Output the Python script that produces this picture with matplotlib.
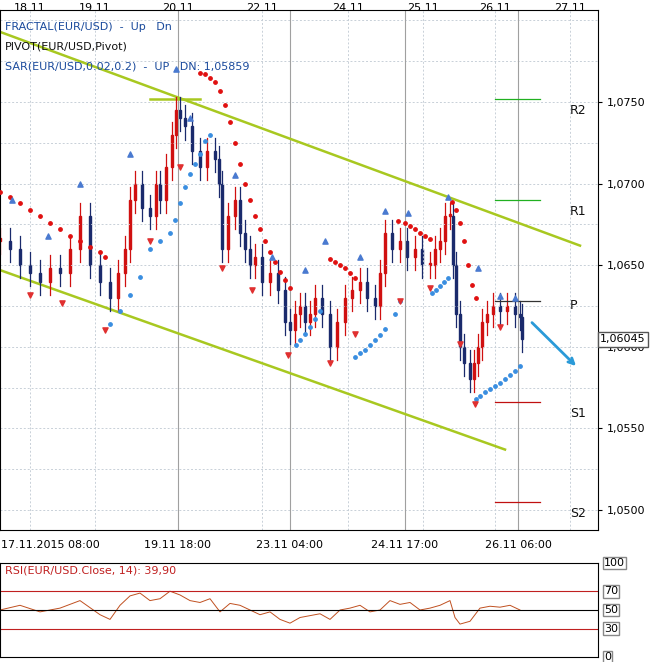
import matplotlib
matplotlib.use("Agg")
import matplotlib.pyplot as plt
import numpy as np

# ---- data ----
close_x = [0,10,20,30,40,50,60,70,80,90,100,110,118,125,130,135,142,150,156,160,166,172,176,180,185,192,200,207,215,219,222,228,235,240,245,250,255,262,270,278,285,290,295,300,305,310,315,322,330,337,345,352,360,367,375,380,385,392,400,407,415,422,430,435,440,445,450,453,456,460,464,470,474,478,482,487,493,500,507,515,520,522]
close_p = [1.0665,1.0660,1.0650,1.0645,1.0640,1.0648,1.0645,1.0660,1.0680,1.0650,1.0640,1.0630,1.0645,1.0660,1.0690,1.0700,1.0685,1.0680,1.0700,1.0690,1.0710,1.0730,1.0745,1.0740,1.0735,1.0720,1.0710,1.0720,1.0715,1.0700,1.0660,1.0680,1.0690,1.0670,1.0660,1.0650,1.0655,1.0640,1.0645,1.0635,1.0615,1.0610,1.0620,1.0625,1.0615,1.0620,1.0630,1.0620,1.0600,1.0615,1.0630,1.0635,1.0640,1.0630,1.0625,1.0645,1.0670,1.0660,1.0665,1.0655,1.0660,1.0650,1.0650,1.0660,1.0665,1.0680,1.0680,1.0650,1.0620,1.0600,1.0590,1.0580,1.0590,1.0600,1.0615,1.0620,1.0625,1.0622,1.0625,1.0620,1.0618,1.0605]
sar_up_x = [110,120,130,140,150,160,170,175,180,185,190,195,200,205,210,296,300,305,310,315,320,355,360,365,370,375,380,385,395,400,432,436,440,444,448,476,480,485,490,495,500,505,510,515,520]
sar_up_p = [1.0614,1.0622,1.0632,1.0643,1.0660,1.0665,1.0670,1.0678,1.0688,1.0698,1.0706,1.0712,1.0718,1.0726,1.0730,1.0601,1.0604,1.0608,1.0612,1.0617,1.0622,1.0594,1.0596,1.0598,1.0601,1.0604,1.0607,1.0611,1.0620,1.0628,1.0633,1.0635,1.0637,1.0640,1.0642,1.0568,1.0570,1.0572,1.0574,1.0576,1.0578,1.0580,1.0583,1.0585,1.0588]
sar_dn_x = [0,10,20,30,40,50,60,70,80,90,100,105,200,205,210,215,220,225,230,235,240,245,250,255,260,265,270,275,280,285,290,330,335,340,345,350,355,398,405,410,415,420,425,430,452,456,460,464,468,472,476]
sar_dn_p = [1.0695,1.0692,1.0688,1.0684,1.0680,1.0676,1.0672,1.0668,1.0665,1.0661,1.0658,1.0655,1.0768,1.0767,1.0765,1.0762,1.0757,1.0748,1.0738,1.0725,1.0712,1.0700,1.0690,1.0680,1.0672,1.0665,1.0658,1.0652,1.0646,1.0641,1.0636,1.0654,1.0652,1.0650,1.0648,1.0645,1.0642,1.0677,1.0676,1.0674,1.0672,1.0670,1.0668,1.0666,1.0689,1.0684,1.0676,1.0665,1.0650,1.0638,1.0630]
frac_up_x = [12,48,80,130,176,190,235,272,305,325,360,385,408,448,478,500,515]
frac_up_p = [1.0690,1.0668,1.0700,1.0718,1.0770,1.0740,1.0705,1.0655,1.0647,1.0665,1.0655,1.0683,1.0682,1.0692,1.0648,1.0631,1.0630]
frac_dn_x = [30,62,105,150,180,222,252,288,330,355,400,430,460,475,500]
frac_dn_p = [1.0632,1.0627,1.0610,1.0665,1.0710,1.0648,1.0635,1.0595,1.0590,1.0608,1.0628,1.0636,1.0602,1.0565,1.0612]
pivot_names = ["R2","R1","P","S1","S2"]
pivot_vals = [1.0752,1.0690,1.0628,1.0566,1.0505]
y_ticks = [1.0500,1.0550,1.0600,1.0650,1.0700,1.0750]
top_dates = ["18.11","19.11","20.11","22.11","24.11","25.11","26.11","27.11"]
top_dates_x = [30,95,178,262,348,423,495,570]
bot_dates = ["17.11.2015 08:00","19.11 18:00","23.11 04:00","24.11 17:00","26.11 06:00"]
bot_dates_x = [50,178,290,405,518]
rsi_x = [0,20,40,60,80,100,110,120,130,140,150,160,170,180,190,200,210,220,230,240,250,260,270,280,290,300,310,320,330,340,350,360,370,380,390,400,410,420,430,440,450,455,460,470,480,490,500,510,520]
rsi_v = [50,55,48,52,60,45,40,55,65,68,60,62,70,66,60,58,62,48,57,55,50,45,48,40,36,42,44,46,40,50,52,55,48,50,60,56,58,50,52,55,60,42,35,38,52,54,53,55,50]

fig = plt.figure(figsize=(6.58,6.62), dpi=100)
W, H = 658, 662
ax = fig.add_axes([0/W, 1-530/H, 598/W, 520/H])
ylo, yhi = 1.04877, 1.08064
ax.set_xlim(0, 598); ax.set_ylim(ylo, yhi)
for t in np.arange(1.0500, 1.0800, 0.0025):
    ax.axhline(t, color="#c8d0d8", lw=0.7, ls=(0,(2,2)))
for x in top_dates_x:
    ax.axvline(x, color="#c8d0d8", lw=0.7, ls=(0,(2,2)))
for x in bot_dates_x[1:]:
    ax.axvline(x, color="#a0a0a0", lw=0.8)
ax.plot([0,580],[1.0793,1.0662], color="#a8c820", lw=1.8)
ax.plot([0,505],[1.0647,1.0537], color="#a8c820", lw=1.8)
ax.plot([150,200],[1.0752,1.0752], color="#a8c820", lw=1.8)
prev = close_p[0]
for i,(x,c) in enumerate(zip(close_x, close_p)):
    o = prev
    col = "#d01010" if c >= o else "#1a2a6c"
    hi = max(o,c)+0.0008; lo = min(o,c)-0.0008
    ax.plot([x,x],[lo,hi], color=col, lw=0.9)
    ax.add_patch(plt.Rectangle((x-1.3, min(o,c)), 2.6, max(abs(c-o),0.00015), color=col))
    prev = c
ax.scatter(sar_up_x, sar_up_p, s=6, color="#3a8ee0", zorder=3)
ax.scatter(sar_dn_x, sar_dn_p, s=6, color="#e01010", zorder=3)
ax.scatter(frac_up_x, frac_up_p, s=14, marker="^", color="#4a7ad0", zorder=4)
ax.scatter(frac_dn_x, frac_dn_p, s=14, marker="v", color="#e03030", zorder=4)
for n,v in zip(pivot_names, pivot_vals):
    c = "#20b020" if n.startswith("R") else ("#333333" if n=="P" else "#c01010")
    ax.plot([495,540],[v,v], color=c, lw=0.9)
    ax.text(570, v-0.0003, n, fontsize=9, va="top" if n!="P" else "center", color="#111111")
ax.annotate("", xy=(578,1.0587), xytext=(530,1.0616),
            arrowprops=dict(arrowstyle="->", color="#2a9ad8", lw=2))
ax.text(5, 1.0796, "FRACTAL(EUR/USD)  -  Up   Dn", fontsize=8, color="#1a4a9c", va="center")
ax.text(5, 1.0784, "PIVOT(EUR/USD,Pivot)", fontsize=8, color="#111111", va="center")
ax.text(5, 1.0772, "SAR(EUR/USD,0.02,0.2)  -  UP   DN: 1,05859", fontsize=8, color="#1a4a9c", va="center")
ax.yaxis.tick_right()
ax.set_yticks(y_ticks)
ax.set_yticklabels([f"{t:.4f}".replace(".",",") for t in y_ticks], fontsize=8)
ax.tick_params(axis="y", length=3)
ax.set_xticks([])
ax.text(600, 1.06045, "1,06045", fontsize=8, va="center", zorder=10,
        bbox=dict(fc="white", ec="#555555", pad=1.5))
for s, x in zip(top_dates, top_dates_x):
    fig.text(x/W, 1-8/H, s, fontsize=8, ha="center", va="center")
for s, x in zip(bot_dates, bot_dates_x):
    fig.text(x/W, 1-545/H, s, fontsize=8, ha="center", va="center")

ax2 = fig.add_axes([0/W, 1-657/H, 598/W, 94/H])
ax2.set_xlim(0,598); ax2.set_ylim(0,100)
ax2.plot(rsi_x, rsi_v, color="#c05020", lw=0.7)
ax2.axhline(70, color="#c02020", lw=0.8); ax2.axhline(30, color="#c02020", lw=0.8)
ax2.axhline(50, color="black", lw=0.8)
ax2.set_xticks([]); ax2.set_yticks([])
for v in [100,70,50,30,0]:
    ax2.text(604, v, str(v), fontsize=8, va="center", bbox=dict(fc="white", ec="#888888", pad=1))
ax2.text(5, 92, "RSI(EUR/USD.Close, 14): 39,90", fontsize=8, color="#c02020", va="center")
fig.savefig("out.png", dpi=100)
